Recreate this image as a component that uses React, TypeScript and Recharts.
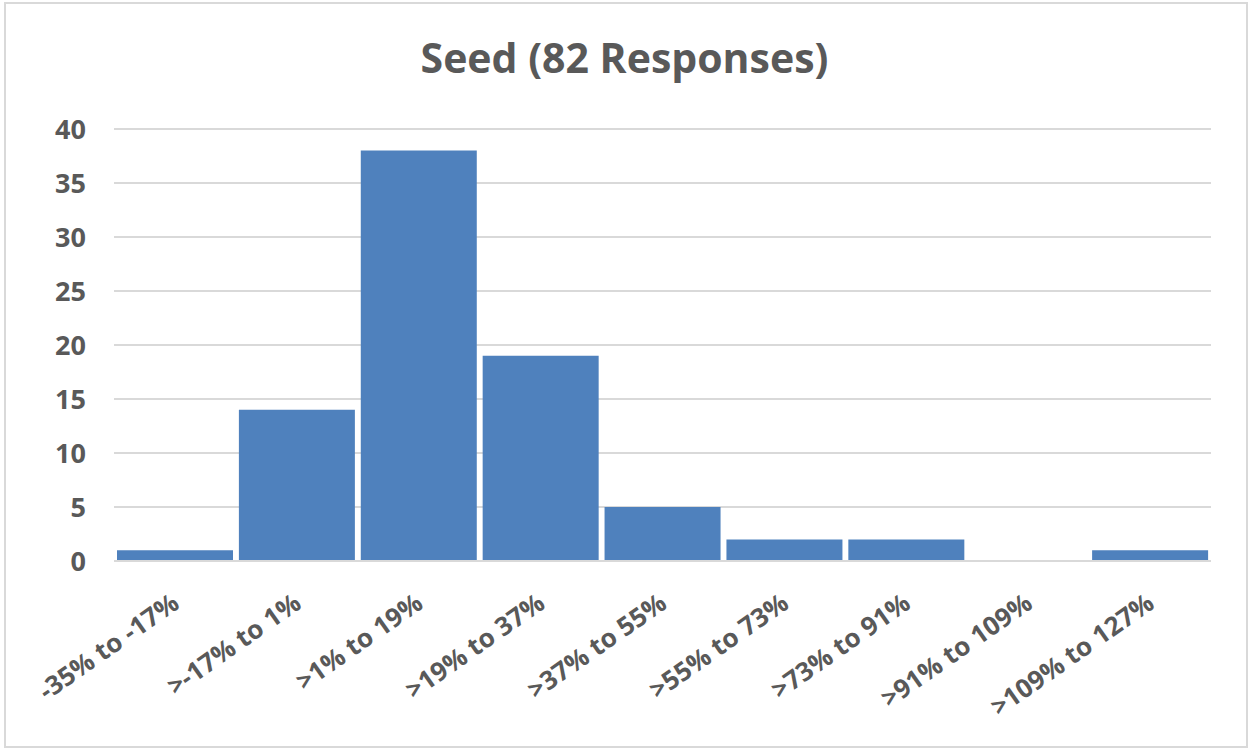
import { BarChart, Bar, XAxis, YAxis, CartesianGrid } from "recharts";

const categories = [
  "-35% to -17%",
  ">-17% to 1%",
  ">1% to 19%",
  ">19% to 37%",
  ">37% to 55%",
  ">55% to 73%",
  ">73% to 91%",
  ">91% to 109%",
  ">109% to 127%",
];
const responses = [1, 14, 38, 19, 5, 2, 2, 0, 1];
const yTicks = [0, 5, 10, 15, 20, 25, 30, 35, 40];

const data = categories.map((name, i) => ({ name, value: responses[i] }));

const FONT = "'Open Sans', sans-serif";
const GREY = "#595959";

const AngledTick = (props: any) => {
  const { x, y, payload } = props;
  return (
    <g transform={`translate(${x + 6},${y + 38})`}>
      <text
        textAnchor="end"
        transform="rotate(-35)"
        fill={GREY}
        fontSize={26}
        fontWeight={700}
        fontFamily={FONT}
      >
        {payload.value}
      </text>
    </g>
  );
};

export default function App() {
  return (
    <div
      style={{
        position: "absolute",
        left: 0,
        top: 0,
        width: 1249,
        height: 748,
        background: "#fff",
      }}
    >
      <div
        style={{
          position: "absolute",
          left: 4,
          top: 2,
          width: 1240,
          height: 742,
          border: "2px solid #d9d9d9",
        }}
      />
      <div
        style={{
          position: "absolute",
          top: 29,
          left: 0,
          width: 1249,
          textAlign: "center",
          fontFamily: FONT,
          fontWeight: 700,
          fontSize: 41,
          color: GREY,
        }}
      >
        Seed (82 Responses)
      </div>
      <div style={{ position: "absolute", left: 0, top: 0 }}>
        <BarChart
          width={1249}
          height={748}
          data={data}
          margin={{ top: 129, right: 38, left: 14, bottom: 27 }}
          barCategoryGap={3}
        >
          <CartesianGrid
            vertical={false}
            stroke="#d9d9d9"
            strokeWidth={2}
          />
          <XAxis
            dataKey="name"
            interval={0}
            height={160}
            tickLine={false}
            axisLine={{ stroke: "#d9d9d9", strokeWidth: 2 }}
            tick={<AngledTick />}
          />
          <YAxis
            domain={[0, 40]}
            ticks={yTicks}
            width={100}
            axisLine={false}
            tickLine={false}
            tickMargin={22}
            tick={{
              fill: GREY,
              fontSize: 27,
              fontWeight: 700,
              fontFamily: FONT,
            }}
          />
          <Bar dataKey="value" fill="#4f81bd" isAnimationActive={false} />
        </BarChart>
      </div>
    </div>
  );
}
